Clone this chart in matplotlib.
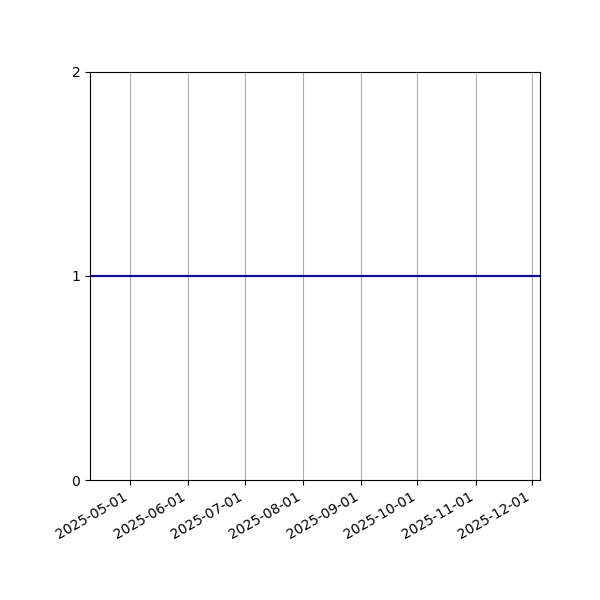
import matplotlib
matplotlib.use("Agg")
import matplotlib.pyplot as plt
import matplotlib.dates as mdates
import pandas as pd

dates = pd.to_datetime(["2025-04-09 17:00", "2025-12-05 07:00"])
values = [1, 1]
y_ticks = [0, 1, 2]

fig = plt.figure(figsize=(6, 6), dpi=100)
ax = fig.add_axes([0.15, 0.2, 0.75, 0.68])
ax.plot(dates, values, color="blue", linewidth=1.5)
ax.set_xlim(dates[0], dates[-1])
ax.set_ylim(0, 2)
ax.set_yticks(y_ticks)
ax.xaxis.set_major_locator(mdates.MonthLocator())
ax.xaxis.set_major_formatter(mdates.DateFormatter("%Y-%m-%d"))
ax.grid(axis="x")
for lbl in ax.get_xticklabels():
    lbl.set_rotation(30)
    lbl.set_ha("right")
fig.savefig("out.png", dpi=100)
